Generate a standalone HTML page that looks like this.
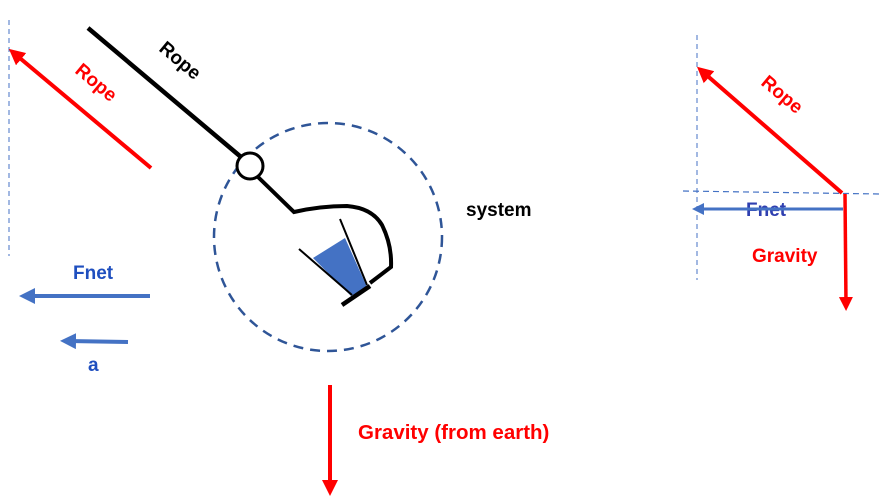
<!DOCTYPE html>
<html><head><style>body{margin:0;background:#fff}svg{display:block}text{font-family:"Liberation Sans",sans-serif;font-weight:bold}</style></head><body>
<svg width="888" height="504" viewBox="0 0 888 504" xmlns="http://www.w3.org/2000/svg">
<defs>
<marker id="r" markerWidth="4" markerHeight="4" refX="2" refY="2" orient="auto" markerUnits="strokeWidth"><path d="M0,0L4,2L0,4z" fill="#f00"/></marker>
<marker id="b" markerWidth="4" markerHeight="4" refX="2" refY="2" orient="auto" markerUnits="strokeWidth"><path d="M0,0L4,2L0,4z" fill="#4472c4"/></marker>
</defs>
<line x1="9" y1="20" x2="9" y2="256" stroke="#4472c4" stroke-width="1" stroke-dasharray="5,4"/>
<line x1="151" y1="168" x2="15" y2="54" stroke="#f00" stroke-width="4" marker-end="url(#r)"/>
<text x="0" y="0" fill="#f00" font-size="19" transform="translate(74,72) rotate(40)">Rope</text>
<line x1="88" y1="28" x2="241" y2="157" stroke="#000" stroke-width="4.5"/>
<text x="0" y="0" fill="#000" font-size="19" transform="translate(158,50) rotate(40)">Rope</text>
<circle cx="328" cy="237" r="114" fill="none" stroke="#2f5597" stroke-width="2.5" stroke-dasharray="10,7"/>
<circle cx="250" cy="166" r="13" fill="#fff" stroke="#000" stroke-width="3"/>
<path d="M258,177 L294,212 Q320,206 347,206 Q372,208 382,225 Q392,245 391,267 L370,283" fill="none" stroke="#000" stroke-width="4"/>
<polygon points="313,258 345,238 367,287 351,296" fill="#4472c4"/>
<line x1="299" y1="249" x2="352" y2="295" stroke="#000" stroke-width="2"/>
<line x1="340" y1="219" x2="367" y2="285" stroke="#000" stroke-width="2"/>
<line x1="342" y1="305" x2="370" y2="286" stroke="#000" stroke-width="4.5"/>
<text x="466" y="216" fill="#000" font-size="19">system</text>
<line x1="150" y1="296" x2="27" y2="296" stroke="#4472c4" stroke-width="4" marker-end="url(#b)"/>
<text x="73" y="279" fill="#1f4fbf" font-size="19">Fnet</text>
<line x1="128" y1="342" x2="68" y2="341" stroke="#4472c4" stroke-width="4" marker-end="url(#b)"/>
<text x="88" y="371" fill="#1f4fbf" font-size="19">a</text>
<line x1="330" y1="385" x2="330" y2="488" stroke="#f00" stroke-width="4" marker-end="url(#r)"/>
<text x="358" y="439" fill="#f00" font-size="20.5">Gravity (from earth)</text>
<line x1="697" y1="35" x2="697" y2="280" stroke="#4472c4" stroke-width="1" stroke-dasharray="5,4"/>
<line x1="683" y1="191" x2="880" y2="194" stroke="#4472c4" stroke-width="1.2" stroke-dasharray="6,4"/>
<line x1="842" y1="193" x2="703" y2="72" stroke="#f00" stroke-width="4" marker-end="url(#r)"/>
<text x="0" y="0" fill="#f00" font-size="19" transform="translate(760,84) rotate(40)">Rope</text>
<text x="746" y="216" fill="#2f3fb0" font-size="19">Fnet</text>
<line x1="843" y1="209" x2="698" y2="209" stroke="#4472c4" stroke-width="3" marker-end="url(#b)"/>
<line x1="845" y1="194" x2="846" y2="304" stroke="#f00" stroke-width="3.5" marker-end="url(#r)"/>
<text x="752" y="262" fill="#f00" font-size="19">Gravity</text>
</svg>
</body></html>
